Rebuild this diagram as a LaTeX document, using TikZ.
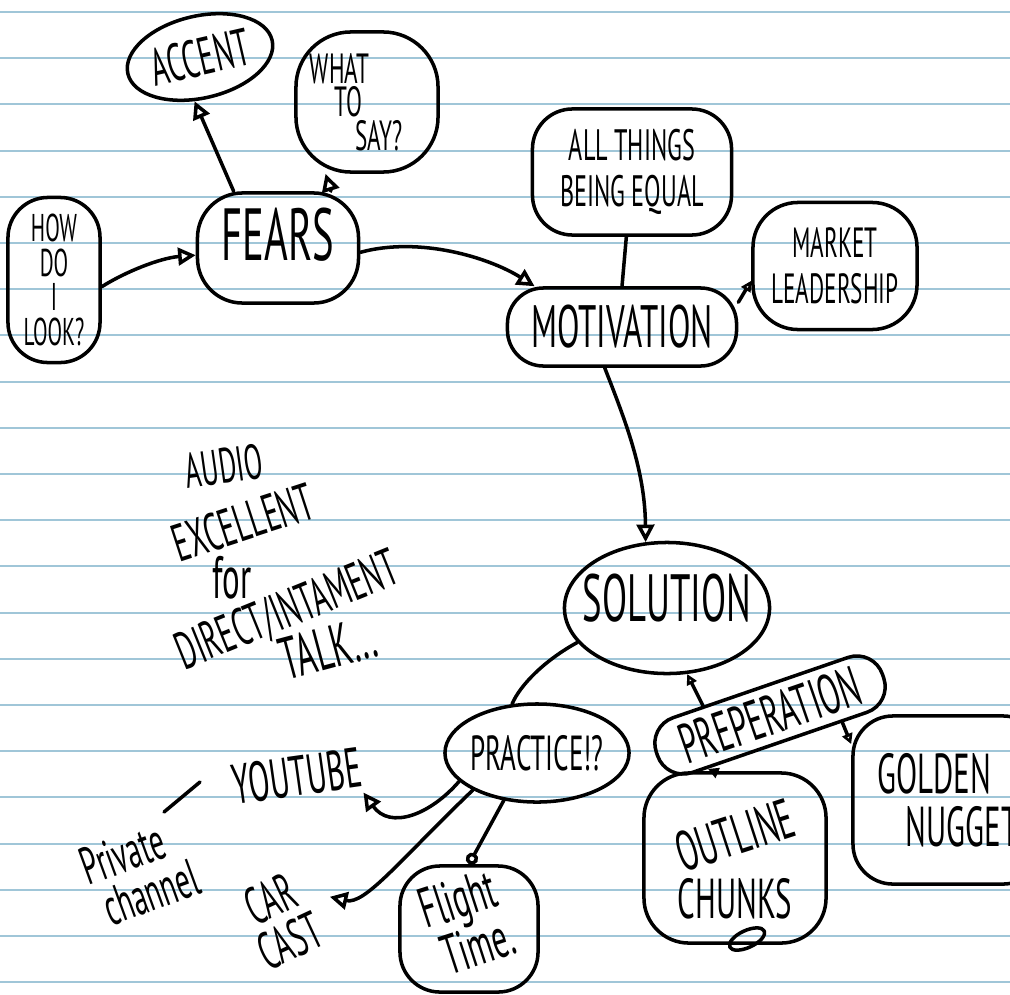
\documentclass[tikz,border=0pt]{standalone}
\usepackage{graphicx}
\usepackage{fontspec}
\setmainfont{PT Sans}[FakeStretch=0.55]
\usetikzlibrary{arrows.meta,shapes.geometric}
\definecolor{rule}{RGB}{160,198,216}
\newcommand{\handpt}[2]{\fontsize{#1}{#2}\selectfont}

\begin{document}
\begin{tikzpicture}[x=0.01cm,y=-0.01cm,line width=1pt,line cap=round,line join=round]
    \tikzstyle{paper}=[draw=rule,line width=0.55pt]
    \tikzstyle{bubble}=[draw,ellipse,inner sep=-3cm,align=center]
    \tikzstyle{blob}=[draw,rectangle,rounded corners=0.35cm,inner sep=-3cm,align=center]
    \tikzstyle{note}=[inner sep=1pt,align=center]
    \tikzstyle{arr}=[-{Triangle[open,length=5pt,width=5pt]}]
    \tikzstyle{tiny arr}=[-{Triangle[open,length=3pt,width=3pt]}]
    \tikzstyle{dot arr}=[-{Circle[open,length=3.5pt]}]

    \useasboundingbox (0,0) rectangle (1010,994);
    \foreach \i in {0,...,21}
        \draw[paper] (0,12+46.2*\i) -- (1010,12+46.2*\i);

    \node(accent)[bubble,rotate=13,minimum width=1.48cm,minimum height=0.82cm,font=\handpt{15}{15}] at (200,57) {ACCENT};
    \node(what)[blob,rounded corners=0.55cm,minimum width=1.42cm,minimum height=1.40cm,font=\handpt{12}{9.5},align=left] at (367,102) {WHAT\\\hspace*{7pt}TO\\\hspace*{13pt}SAY?\hspace*{6pt}};
    \node(fears)[blob,rounded corners=0.45cm,minimum width=1.61cm,minimum height=1.10cm,font=\handpt{21}{21}] at (278,248) {\raisebox{8pt}{FEARS}};
    \node(how)[blob,rounded corners=0.4cm,minimum width=0.92cm,minimum height=1.65cm,font=\handpt{11}{9.8}] at (54,280) {HOW\\DO\\I\\LOOK?};
    \node(allthings)[blob,rounded corners=0.4cm,minimum width=1.99cm,minimum height=1.26cm,font=\handpt{12.5}{13}] at (632,172) {ALL THINGS\\BEING EQUAL};
    \node(motivation)[blob,rounded corners=0.36cm,minimum width=2.29cm,minimum height=0.78cm,font=\handpt{17}{17}] at (622,327) {MOTIVATION};
    \node(market)[blob,rounded corners=0.45cm,minimum width=1.64cm,minimum height=1.27cm,font=\handpt{12}{13}] at (835,266) {MARKET\\LEADERSHIP};
    \node(solution)[bubble,minimum width=2.05cm,minimum height=1.31cm,font=\handpt{19}{19}] at (667,608) {\raisebox{5.6pt}{SOLUTION}};
    \node(practice)[bubble,minimum width=1.84cm,minimum height=0.98cm,font=\handpt{14}{14}] at (537,753) {PRACTICE!?};
    \node(prep)[blob,rotate=19,rounded corners=0.27cm,minimum width=2.39cm,minimum height=0.58cm,font=\handpt{16}{16}] at (770,715) {PREPERATION};
    \node(golden)[blob,rounded corners=0.4cm,minimum width=1.9cm,minimum height=1.68cm,font=\handpt{16}{15},align=left] at (948,800) {GOLDEN\\\hspace*{8pt}NUGGET};
    \node(outline)[blob,rounded corners=0.45cm,minimum width=1.82cm,minimum height=1.70cm,font=\handpt{16}{17}] at (735,858) {\rotatebox{18}{OUTLINE}\\[-4pt]CHUNKS};
    \node(mark)[draw,ellipse,rotate=25,minimum width=0.38cm,minimum height=0.17cm,inner sep=0] at (747,939) {};
    \node(flight)[blob,rounded corners=0.4cm,minimum width=1.38cm,minimum height=1.26cm,font=\handpt{16}{14}] at (469,929) {\rotatebox{18}{\begin{tabular}{@{}l@{}}Flight\\[-1pt]\hspace*{2pt}Time.\end{tabular}}};

    \node(youtube)[note,rotate=8,font=\handpt{16}{16}] at (297,776) {YOUTUBE};
    \node(private)[note,rotate=20,font=\handpt{15}{13},align=left] at (140,872) {Private\\\hspace*{2pt}channel};
    \node(carcast)[note,rotate=25,inner xsep=6pt,font=\handpt{15}{13}] at (280,920) {CAR\\CAST};
    \coordinate(dash start) at (164,812);
    \coordinate(dash end) at (200,782);

    \node(audio)[note,rotate=8,font=\handpt{14}{14}] at (224,466) {AUDIO};
    \node(excellent)[note,rotate=18,font=\handpt{15}{15}] at (243,522) {EXCELLENT};
    \node(for)[note,font=\handpt{17}{17}] at (232,578) {for};
    \node(direct)[note,rotate=22,font=\handpt{15}{15}] at (288,612) {DIRECT/INTAMENT};
    \node(talk)[note,rotate=15,font=\handpt{17}{17}] at (328,648) {TALK...};

    \draw[arr] (fears.128) -- (accent.-110);
    \draw[arr] (fears.47) -- (what.-120);
    \draw[arr] (how.-8) .. controls (125,272) and (160,258) .. (fears.185);
    \draw[arr] (fears.-3) .. controls (420,236) and (490,258) .. (motivation.155);
    \draw (allthings.-95) -- (motivation.north);
    \draw[tiny arr] (motivation.12) -- (market.190);
    \draw[arr] (motivation.-113) .. controls (625,420) and (645,470) .. (solution.108);
    \draw (solution.-159) .. controls (545,660) and (520,685) .. (practice.117);
    \draw[tiny arr] (prep.153) -- (solution.-73);
    \draw[tiny arr] (prep.-25) -- (golden.150);
    \draw[tiny arr] (outline.104) -- (prep.-158);
    \draw[arr] (practice.-160) .. controls (430,815) and (390,830) .. (youtube.-22);
    \draw[arr] (practice.-150) .. controls (400,860) and (365,905) .. (carcast.east);
    \draw[dot arr] (practice.-125) -- (flight.north);
    \draw (dash start) -- (dash end);
\end{tikzpicture}
\end{document}
